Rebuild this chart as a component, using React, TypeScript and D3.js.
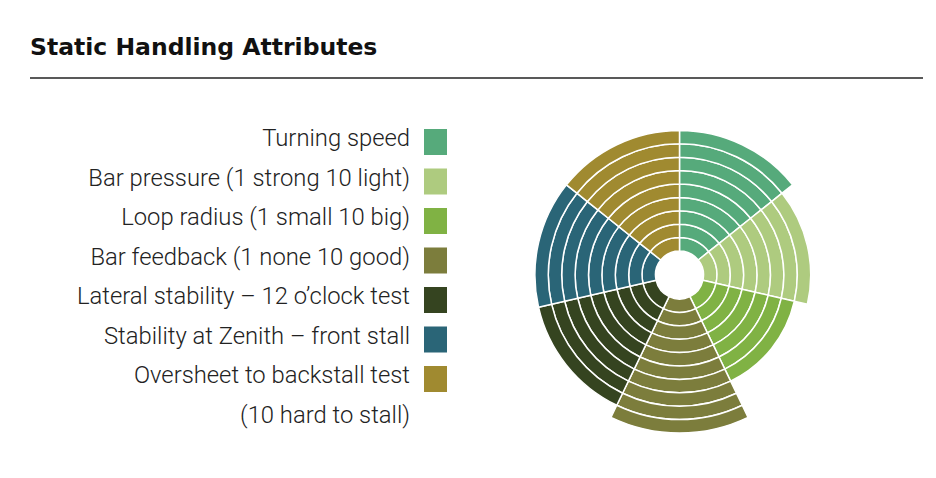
import React from 'react';
import * as d3 from 'd3';

const categories = [
  'Turning speed',
  'Bar pressure (1 strong 10 light)',
  'Loop radius (1 small 10 big)',
  'Bar feedback (1 none 10 good)',
  'Lateral stability – 12 o’clock test',
  'Stability at Zenith – front stall',
  'Oversheet to backstall test',
];
const extraLine = '(10 hard to stall)';
const values = [9, 8, 7, 10, 9, 9, 9];
const colors = ['#56aa7b', '#aecb7f', '#80b244', '#7c7d3c', '#354420', '#2a6577', '#a08a30'];

const W = 936;
const H = 478;

export default function App() {
  const cx = 679.5;
  const cy = 275;
  const r = d3.scaleLinear().domain([0, 10]).range([24, 158]);
  const angle = d3.scaleBand<string>().domain(categories).range([0, 2 * Math.PI]).padding(0);
  const arc = d3.arc<any>();

  const rings: { key: string; d: string; fill: string }[] = [];
  categories.forEach((c, i) => {
    const a0 = angle(c)!;
    const a1 = a0 + angle.bandwidth();
    for (let k = 0; k < values[i]; k++) {
      rings.push({
        key: `${i}-${k}`,
        d: arc({ innerRadius: r(k), outerRadius: r(k + 1), startAngle: a0, endAngle: a1 }) as string,
        fill: colors[i],
      });
    }
  });

  const rowY = d3.scaleLinear().domain([0, 1]).range([146, 185.5]);

  return (
    <div style={{ position: 'fixed', left: 0, top: 0, width: W, height: H, background: '#fff' }}>
      <svg width={W} height={H} style={{ display: 'block' }}>
        <text x={30} y={55} fontFamily="'DejaVu Sans', sans-serif" fontWeight={700} fontSize={23.5} fill="#111">
          Static Handling Attributes
        </text>
        <line x1={30} x2={923} y1={78} y2={78} stroke="#222" strokeWidth={1.3} />

        <g fontFamily="Roboto, 'Liberation Sans', sans-serif" fontWeight={300} fontSize={23.8} fill="#222">
          {categories.map((c, i) => (
            <g key={c}>
              <text x={410} y={rowY(i)} textAnchor="end">{c}</text>
              <rect x={424} y={rowY(i) - 17} width={23} height={26} fill={colors[i]} />
            </g>
          ))}
          <text x={410} y={rowY(categories.length)} textAnchor="end">{extraLine}</text>
        </g>

        <g transform={`translate(${cx},${cy})`}>
          {rings.map(s => (
            <path key={s.key} d={s.d} fill={s.fill} stroke="#fff" strokeWidth={1.5} strokeLinejoin="round" />
          ))}
        </g>
      </svg>
    </div>
  );
}
